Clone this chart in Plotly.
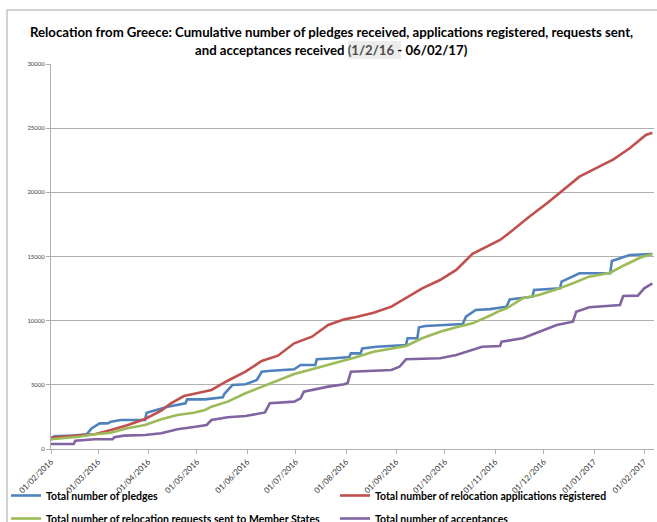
import plotly.graph_objects as go

# ---- data ----
pledges_dates = ["2016-02-01","2016-02-03","2016-02-15","2016-02-23","2016-02-26","2016-03-02","2016-03-07","2016-03-09",
                 "2016-03-15","2016-03-30","2016-03-31","2016-04-09","2016-04-13","2016-04-24","2016-04-25","2016-05-06",
                 "2016-05-17","2016-05-18","2016-05-23","2016-05-31","2016-06-07","2016-06-10","2016-06-14","2016-06-30",
                 "2016-07-04","2016-07-13","2016-07-14","2016-07-25","2016-08-03","2016-08-04","2016-08-10","2016-08-11",
                 "2016-08-20","2016-09-07","2016-09-08","2016-09-14","2016-09-15","2016-09-19","2016-10-12","2016-10-14",
                 "2016-10-20","2016-10-29","2016-11-08","2016-11-10","2016-11-24","2016-11-25","2016-12-11","2016-12-12",
                 "2016-12-23","2017-01-11","2017-01-12","2017-01-23","2017-02-06"]
pledges = [700,1000,1050,1145,1600,2000,2000,2130,
           2260,2260,2830,3170,3300,3560,3870,3870,
           4030,4300,4990,5040,5380,6020,6080,6210,
           6545,6545,6990,7070,7160,7450,7450,7840,
           7970,8100,8630,8630,9480,9580,9740,10310,
           10830,10900,11090,11660,11870,12390,12520,13040,
           13690,13690,14650,15120,15190]

applications_dates = ["2016-02-01","2016-02-28","2016-03-09","2016-03-19","2016-03-30","2016-04-09","2016-04-15","2016-04-23",
                      "2016-04-28","2016-05-10","2016-05-20","2016-05-31","2016-06-10","2016-06-20","2016-06-30","2016-07-11",
                      "2016-07-21","2016-07-31","2016-08-08","2016-08-18","2016-08-29","2016-09-07","2016-09-17","2016-09-28",
                      "2016-10-08","2016-10-18","2016-10-29","2016-11-04","2016-11-12","2016-11-22","2016-12-03","2016-12-13",
                      "2016-12-23","2017-01-02","2017-01-13","2017-01-23","2017-02-02","2017-02-06"]
applications = [900,1145,1480,1850,2340,2990,3560,4130,
                4260,4600,5320,6025,6860,7270,8235,8750,
                9660,10100,10310,10620,11090,11740,12520,13170,
                13950,15200,15900,16290,17060,18100,19150,20180,
                21220,21870,22570,23430,24470,24650]

requests_dates = ["2016-02-01","2016-02-18","2016-02-28","2016-03-09","2016-03-19","2016-03-30","2016-04-09","2016-04-19",
                  "2016-04-29","2016-05-06","2016-05-10","2016-05-20","2016-05-31","2016-06-10","2016-06-20","2016-06-30",
                  "2016-07-11","2016-07-21","2016-07-31","2016-08-06","2016-08-18","2016-08-29","2016-09-07","2016-09-17",
                  "2016-09-28","2016-10-08","2016-10-18","2016-10-29","2016-11-04","2016-11-08","2016-11-18","2016-11-28",
                  "2016-12-09","2016-12-19","2016-12-29","2017-01-11","2017-01-20","2017-01-30","2017-02-06"]
requests = [755,960,1145,1270,1610,1870,2310,2650,
            2830,3040,3300,3690,4340,4860,5380,5840,
            6210,6545,6850,7110,7580,7840,8030,8630,
            9140,9480,9790,10400,10780,10960,11740,12000,
            12440,12910,13430,13740,14340,14940,15190]

acceptances_dates = ["2016-02-01","2016-02-15","2016-02-16","2016-02-28","2016-03-10","2016-03-11","2016-03-17","2016-03-30",
                     "2016-04-09","2016-04-19","2016-04-29","2016-05-07","2016-05-10","2016-05-20","2016-05-31","2016-06-10",
                     "2016-06-12","2016-06-15","2016-06-30","2016-07-04","2016-07-06","2016-07-21","2016-07-31","2016-08-02",
                     "2016-08-04","2016-08-29","2016-09-03","2016-09-07","2016-09-28","2016-10-08","2016-10-24","2016-11-04",
                     "2016-11-05","2016-11-18","2016-11-28","2016-12-09","2016-12-19","2016-12-21","2016-12-29","2017-01-17",
                     "2017-01-19","2017-01-28","2017-02-01","2017-02-06"]
acceptances = [390,390,650,755,760,910,1040,1090,
               1220,1535,1720,1870,2260,2470,2570,2780,
               2850,3560,3690,3950,4470,4860,5050,5150,
               6020,6160,6410,6990,7070,7320,7970,8030,
               8360,8630,9140,9660,9920,10700,11040,11220,
               11920,11950,12520,12910]

series_names = ["Total number of pledges",
                "Total number of relocation applications registered",
                "Total number of relocation requests sent to Member States",
                "Total number of acceptances"]
series_colors = ["#4F81BD", "#C0504D", "#9BBB59", "#8064A2"]

title_line1 = "Relocation from Greece: Cumulative number of pledges received, applications registered, requests sent,"
title_line2 = "and acceptances received <span style='color:#4d4d4d'>(1/2/16</span> - 06/02/17)"

# ---- figure geometry helpers (pixels -> paper) ----
W, H = 657, 522
L, R, T, B = 51, 3, 64, 73
PW, PH = W - L - R, H - T - B
def px(x):
    return (x - L) / PW
def py(y):
    return (H - B - y) / PH

fig = go.Figure()
data = [(pledges_dates, pledges, "legend"),
        (applications_dates, applications, "legend"),
        (requests_dates, requests, "legend2"),
        (acceptances_dates, acceptances, "legend2")]
for (d, v, lg), name, col in zip(data, series_names, series_colors):
    fig.add_trace(go.Scatter(x=d, y=v, mode="lines", name=name, legend=lg,
                             line=dict(color=col, width=2.6)))

grid = "#b0b0b0"
legfont = dict(family="Lato, sans-serif", size=10.5, color="#000000", weight="bold")
fig.update_layout(
    width=W, height=H,
    margin=dict(l=L, r=R, t=T, b=B, autoexpand=False),
    paper_bgcolor="white", plot_bgcolor="white",
    font=dict(family="Lato, sans-serif", color="#404040"),
    xaxis=dict(range=["2016-02-01", "2017-02-07"], tick0="2016-02-01", dtick="M1",
               tickformat="%d/%m/%Y", tickangle=-45, tickfont=dict(size=8, color="#333333"),
               showgrid=False, showline=True, linecolor=grid, linewidth=1, automargin=False,
               ticks="outside", ticklen=4, tickcolor=grid, zeroline=False),
    yaxis=dict(range=[0, 30000], dtick=5000, tickformat="d", automargin=False,
               tickfont=dict(size=6, color="#404040"),
               showgrid=True, gridcolor=grid, gridwidth=1,
               showline=True, linecolor=grid, linewidth=1,
               ticks="outside", ticklen=4, tickcolor=grid, zeroline=False),
    legend=dict(orientation="h", x=px(6), xanchor="left", y=py(481), yanchor="top",
                entrywidth=284, entrywidthmode="pixels", font=legfont,
                bgcolor="rgba(0,0,0,0)"),
    legend2=dict(orientation="h", x=px(6), xanchor="left", y=py(504), yanchor="top",
                 entrywidth=284, entrywidthmode="pixels", font=legfont,
                 bgcolor="rgba(0,0,0,0)"),
    showlegend=True,
)

# outer frame lines and title highlight
fig.add_shape(type="line", xref="paper", yref="paper", x0=px(7), x1=px(657), y0=py(10), y1=py(10),
              line=dict(color="#a6a6a6", width=1))
fig.add_shape(type="line", xref="paper", yref="paper", x0=px(7), x1=px(7), y0=py(10), y1=py(522),
              line=dict(color="#a6a6a6", width=1))
fig.add_shape(type="rect", xref="paper", yref="paper", x0=px(348), x1=px(401), y0=py(41), y1=py(59),
              fillcolor="#ececec", line=dict(width=0), layer="below")

fig.add_annotation(text=title_line1, xref="paper", yref="paper", x=px(331), y=py(32),
                   xanchor="center", yanchor="middle", showarrow=False,
                   font=dict(family="Lato, sans-serif", size=13.2, color="#000000", weight="bold"))
fig.add_annotation(text=title_line2, xref="paper", yref="paper", x=px(331), y=py(50),
                   xanchor="center", yanchor="middle", showarrow=False,
                   font=dict(family="Lato, sans-serif", size=13.2, color="#000000", weight="bold"))

fig.write_html("out.html", config={"displayModeBar": False},
               post_script="document.body.style.margin='0';document.body.style.padding='0';")
